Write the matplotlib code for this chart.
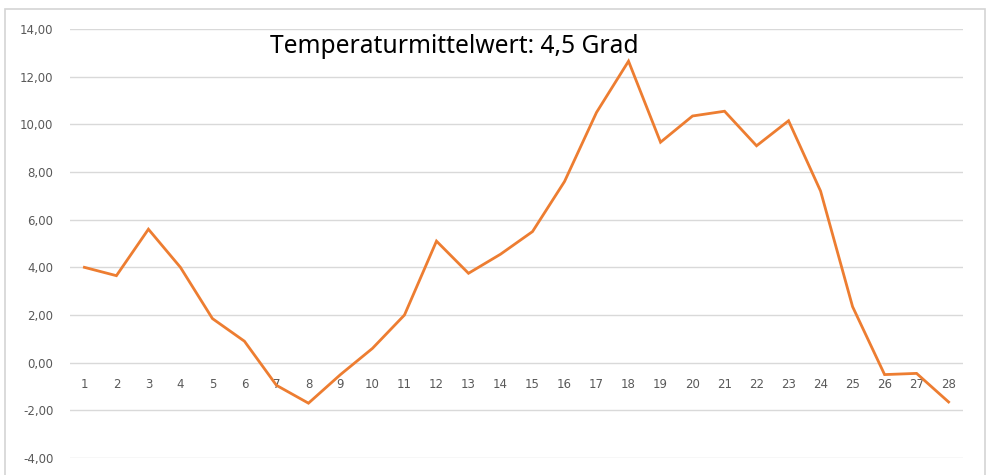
import numpy as np
import matplotlib
matplotlib.use("Agg")
import matplotlib.pyplot as plt
from matplotlib.ticker import FuncFormatter
from matplotlib.patches import Rectangle

# daily values
days = list(range(1, 29))
temps = [4.0, 3.65, 5.6, 4.0, 1.85, 0.9, -0.95, -1.7, -0.5, 0.6,
         2.0, 5.1, 3.75, 4.55, 5.5, 7.6, 10.5, 12.65, 9.25, 10.35,
         10.55, 9.1, 10.15, 7.2, 2.35, -0.5, -0.45, -1.65]
yticks = [-4, -2, 0, 2, 4, 6, 8, 10, 12, 14]
title = "Temperaturmittelwert: 4,5 Grad"

W, H = 988, 475
fig = plt.figure(figsize=(W/100, H/100), dpi=100)
fig.patch.set_facecolor("white")

# chart frame like the excel chart area
fig.patches.append(Rectangle((5/W, -0.05), 980/W, 1.05 - 9/H, transform=fig.transFigure,
                             fill=False, edgecolor="#d4d4d4", linewidth=1.2))

ax = fig.add_axes([70/W, 1-458/H, (963-70)/W, (458-29)/H])
ax.plot(days, temps, color="#ED7D31", linewidth=2.0, solid_joinstyle="miter")

ax.set_xlim(0.55, 28.45)
ax.set_ylim(-4, 14)
ax.set_yticks(yticks)
ax.yaxis.set_major_formatter(FuncFormatter(lambda v, p: ("%.2f" % v).replace(".", ",")))
ax.set_xticks(days)
ax.set_xticklabels([str(d) for d in days])

ax.grid(axis="y", color="#d9d9d9", linewidth=1.0)
ax.set_axisbelow(True)
for s in ax.spines.values():
    s.set_visible(False)
ax.spines["bottom"].set_position(("data", 0))
ax.tick_params(axis="both", length=0, labelsize=8.5, colors="#595959")
ax.tick_params(axis="x", pad=11)
ax.tick_params(axis="y", pad=12)

fig.text(270/W, 1-53/H, title, fontsize=17.7, fontfamily="Noto Sans",
         color="black", ha="left", va="baseline")

fig.savefig("out.png", dpi=100)
